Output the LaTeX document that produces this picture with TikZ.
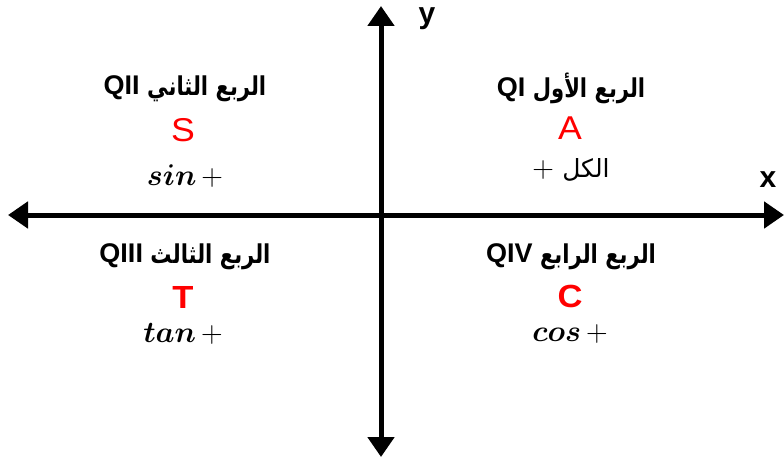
\documentclass[tikz,border=0pt]{standalone}
\usepackage{fix-cm}
\usepackage{graphicx}
\usepackage{fontspec}
\usepackage{amsmath}
\usetikzlibrary{arrows.meta}
\TeXXeTstate=1
\setmainfont{Liberation Sans}
\newfontfamily\arabicfont[Script=Arabic]{DejaVu Sans}
\definecolor{qred}{RGB}{255,0,0}
\newcommand{\artitle}[1]{\raisebox{-1pt}{\scalebox{0.96}[1.18]{\arabicfont\bfseries\fontsize{22}{28}\selectfont\beginR #1\endR}}}
\newcommand{\mathsign}[1]{{\boldmath$#1$}\hspace{5pt}$+$}
\begin{document}
\begin{tikzpicture}[x=1pt,y=-1pt,
  axis/.style={line width=5pt,-{Triangle[length=20pt,width=26pt]}},
  qtitle/.style={font=\fontsize{27}{30}\selectfont\bfseries,inner sep=0pt},
  qletter/.style={font=\fontsize{33}{36}\selectfont,text=qred,inner sep=0pt,xscale=1.08},
  qletterb/.style={font=\fontsize{32}{36}\selectfont\bfseries,text=qred,inner sep=0pt,xscale=1.08},
  qsign/.style={font=\fontsize{30}{34}\selectfont,inner sep=0pt},
  axlabel/.style={font=\fontsize{30}{32}\selectfont\bfseries,inner sep=0pt}]
\useasboundingbox (0,0) rectangle (784,460);
\coordinate (xl) at (8,215);
\coordinate (xr) at (784,215);
\coordinate (yt) at (381,6);
\coordinate (yb) at (381,457);
\coordinate (o) at (381,215);
\draw[axis] (o) -- (xl);
\draw[axis] (o) -- (xr);
\draw[axis] (o) -- (yt);
\draw[axis] (o) -- (yb);
\node[axlabel] (ylab) at (427,19) {y};
\node[axlabel] (xlab) at (768,180) {x};
% QII
\node[qtitle] (t2) at (185,89) {QII \artitle{الربع الثاني}};
\node[qletter] (s) at (183,130) {S};
\node[qsign] (sin) at (185,176) {\mathsign{sin}};
% QI
\node[qtitle] (t1) at (571,88) {QI \artitle{الربع الأول}};
\node[qletter] (a) at (570,128) {A};
\node[qsign] (all) at (571,170) {$+$ {\arabicfont\fontsize{25}{28}\selectfont\beginR الكل\endR}};
% QIII
\node[qtitle] (t3) at (185,257) {QIII \artitle{الربع الثالث}};
\node[qletterb] (tt) at (183,297) {T};
\node[qsign] (tan) at (183,334) {\mathsign{tan}};
% QIV
\node[qtitle] (t4) at (571,257) {QIV \artitle{الربع الرابع}};
\node[qletterb] (c) at (570,296) {C};
\node[qsign] (cos) at (570,334) {\mathsign{cos}};
\end{tikzpicture}
\end{document}
